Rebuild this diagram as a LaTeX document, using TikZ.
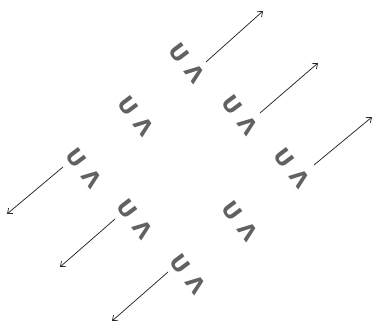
\documentclass[tikz,border=0pt]{standalone}
\usepackage{fontspec}
\newfontfamily\letterfont{DejaVu Sans}
\usetikzlibrary{arrows.meta}
\begin{document}
\begin{tikzpicture}[x=1pt,y=-1pt,
  glyph/.style={font=\letterfont\bfseries\fontsize{22}{22}\selectfont, text=black!62, inner sep=0pt, rotate=-53},
  arr/.style={line width=0.75pt, draw=black!85, -{Straight Barb[length=4.5pt,width=7pt,line width=0.7pt]}}]
\useasboundingbox (0,0) rectangle (375,325);
% letter pairs on a rotated lattice
\foreach \n/\cx/\cy in {g1/187/63, g2/136/116, g3/240/115, g4/84/168, g5/292/168, g6/135/219, g7/188/274, g8/240/221}{
  \node[glyph] (\n) at (\cx,\cy) {U\kern8pt Λ};
}
% arrow end points
\coordinate (s1) at (206,62);  \coordinate (e1) at (263,11);
\coordinate (s3) at (260,113); \coordinate (e3) at (318,63);
\coordinate (s5) at (314,165); \coordinate (e5) at (372,117);
\coordinate (s4) at (63,167);  \coordinate (e4) at (7,214);
\coordinate (s6) at (115,219); \coordinate (e6) at (60,267);
\coordinate (s7) at (168,272); \coordinate (e7) at (112,321);
\foreach \k in {1,3,5,4,6,7}{\draw[arr] (s\k) -- (e\k);}
\end{tikzpicture}
\end{document}
